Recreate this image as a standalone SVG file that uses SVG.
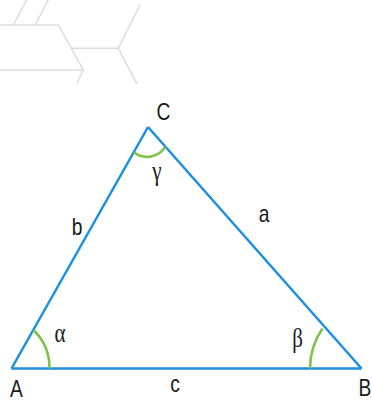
<svg xmlns="http://www.w3.org/2000/svg" width="372" height="402" viewBox="0 0 372 402">
<style>
.deco{fill:none;stroke:#dcdcdc;stroke-width:1.5;stroke-linecap:round;stroke-linejoin:miter}
.side{fill:none;stroke:#1b8fe0;stroke-width:2.5;stroke-linejoin:miter}
.ang{fill:none;stroke:#7dc242;stroke-width:2.5}
.lat{font-family:"Liberation Sans",Arial,sans-serif;font-size:24px;fill:#1a1a1a;text-anchor:middle}
.grk{font-family:"Liberation Serif","Times New Roman",serif;font-size:28px;fill:#1a1a1a;text-anchor:middle}
</style>
<rect width="372" height="402" fill="#ffffff"/>
<g id="decor">
<path class="deco" d="M13.3,25 L26.7,0 M35,25 L48.3,0 M0,25 L58.3,25 L83.3,70 L0,70 M83.3,70 L77,83 M71.2,48.3 L118.3,48.3 L140,5 M118.3,48.3 L136.7,83.3"/>
</g>
<g id="connectors">
<path id="side-c" class="side" d="M11.5,368.5 L361.5,368.5"/>
<path id="side-b" class="side" d="M11.5,368.5 L148,127"/>
<path id="side-a" class="side" d="M148,127 L361.5,368.5"/>
</g>
<g id="angle-alpha"><path class="ang" d="M33.5,330 A53 53 0 0 1 49.5,368.5"/></g>
<g id="angle-beta"><path class="ang" d="M310,368.5 A71 71 0 0 1 322.5,328.5"/></g>
<g id="angle-gamma"><path class="ang" d="M134,152.3 A21.3 21.3 0 0 0 165.4,146.7"/></g>
<g id="node-A"><text class="lat" transform="translate(16.5,396.5) scale(0.8,1)">A</text></g>
<g id="node-B"><text class="lat" transform="translate(365,395.5) scale(0.8,1)">B</text></g>
<g id="node-C"><text class="lat" transform="translate(163.5,119.5) scale(0.8,1)">C</text></g>
<g id="label-a"><text class="lat" transform="translate(264,222) scale(0.8,1)">a</text></g>
<g id="label-b"><text class="lat" transform="translate(77,235) scale(0.8,1)">b</text></g>
<g id="label-c"><text class="lat" transform="translate(175,392) scale(0.8,1)">c</text></g>
<g id="label-alpha"><text class="grk" transform="translate(60,342) scale(0.75,1)">α</text></g>
<g id="label-beta"><text class="grk" transform="translate(297.5,347) scale(0.75,1)">β</text></g>
<g id="label-gamma"><text class="grk" transform="translate(157,180) scale(0.75,1)">γ</text></g>
</svg>
